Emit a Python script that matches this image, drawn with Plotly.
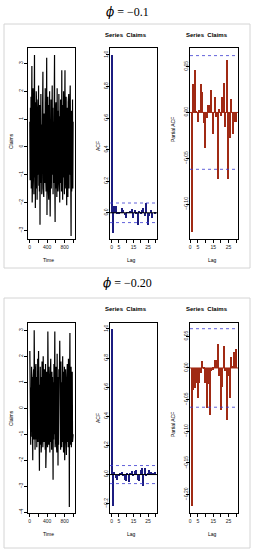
import plotly.graph_objects as go

W, H = 255, 550

# ---------------- data ----------------
PHI = "<span style='font-family:DejaVu Serif;font-style:italic'>\u03d5</span>"
titles = [PHI + " = \u22120.1", PHI + " = \u22120.20"]

claims_1 = [
    0.9, -1.2, 1.4, -0.7, 1.8, -1.5, 1.1, 2.9, -2.0, 1.3,
    -0.9, 2.1, -1.4, 0.8, -1.7, 1.2, 3.3, -1.1, 1.6, -2.2,
    1.0, -1.5, 2.0, -0.8, 1.3, -1.9, 0.7, -1.2, 1.7, -1.0,
    2.2, -1.4, 0.9, -1.6, 1.5, -2.8, 1.1, -0.9, 1.9, -1.3,
    0.8, -1.7, 1.4, -1.1, 2.0, 2.7, -1.5, 1.0, -1.8, 1.2,
    -0.9, 1.6, -1.3, 2.1, -1.0, 1.3, -1.6, 0.9, 3.2, -2.45,
    1.2, -1.0, 1.8, -1.4, 0.7, -1.9, 1.5, -1.1, 2.0, -1.3,
    -2.5, 1.1, -0.8, 1.7, -1.5, 1.0, -1.2, 2.2, -1.0, 1.4,
    -1.7, 0.9, -1.3, 1.9, -1.1, 3.3, -1.4, -2.7, 1.2, -0.9,
    1.6, -1.5, 1.0, -1.8, 2.1, -1.1, 1.3, -1.6, 0.8, -1.2,
    1.9, -1.0, 1.4, -2.0, 1.1, -1.3, 1.7, -0.9, 1.2, -1.6,
    2.75, -1.2, 1.0, -1.9, 1.5, -1.1, 2.0, -1.4, 0.9, -1.7,
    1.3, 2.75, -1.5, 1.1, -1.2, 1.8, -1.0, -2.1, 1.4, -1.3,
    1.0, -1.8, 1.6, -1.1, 1.9, -1.5, 1.2, -1.0, 1.5, 2.2,
    -1.4, 1.1, -3.2, 1.3, -1.6, 1.0, -1.2, 1.7, -1.5, 0.9,
]
claims_2 = [
    2.2, -1.0, 1.3, -1.4, 0.8, -1.1, 1.6, -0.9, 1.2, -1.5,
    -2.0, 1.1, -0.8, 1.5, -1.2, 3.0, -1.3, 0.9, -1.6, 1.4,
    -1.0, 1.7, -1.2, 0.8, -1.5, 1.2, -0.9, 1.9, -1.3, 1.0,
    2.2, -1.1, 1.4, -2.4, 0.9, -1.4, 1.6, -1.0, 1.2, -1.7,
    1.0, -1.2, 1.8, -0.9, 1.3, -1.5, 2.0, -1.1, 0.8, -1.3,
    1.5, -1.0, 1.1, -1.6, 1.7, -2.3, 0.9, -1.2, 1.4, -1.0,
    1.2, -1.5, 2.95, -1.1, 1.0, -1.4, 1.6, -0.9, 1.3, -1.7,
    1.1, -1.0, 1.9, -1.3, 0.8, -1.6, 1.4, -1.1, 1.2, -1.4,
    -2.75, 1.0, -1.2, 1.7, -1.0, 1.3, 2.95, -1.5, 1.1, -0.9,
    1.6, -1.3, 1.0, -1.7, 2.1, -1.1, 1.2, -2.2, 0.9, -1.4,
    1.5, -1.0, 1.3, 2.6, -1.2, 1.1, -1.6, 1.8, -0.9, 1.2,
    -1.5, 1.0, -1.3, 2.0, -1.1, 1.4, -1.7, 0.9, -1.2, 1.6,
    -2.0, 1.1, -1.0, 1.5, -1.4, 1.2, -1.8, 1.0, -1.1, 1.7,
    -1.3, 0.9, -1.5, 1.9, -1.0, 1.3, -3.8, 1.2, 2.9, -1.4,
    1.0, -1.2, 1.6, -1.5, 1.1, -0.9, 1.4, -1.3, 1.2, -1.0,
]
n_obs = 1000

acf_lags = list(range(0, 31))
acf_1 = [1.0, -0.13, 0.045, 0.04, -0.01, -0.005, 0.005, 0.03, 0.015, -0.015,
         -0.035, 0.003, 0.003, 0.01, 0.025, -0.03, 0.02, -0.01, -0.075, 0.01,
         -0.01, 0.02, 0.03, -0.02, 0.06, -0.08, -0.02, 0.02, -0.03, 0.0, -0.01]
acf_2 = [1.0, -0.214, 0.016, -0.023, -0.034, -0.01, 0.007, 0.016, -0.006, -0.034,
         -0.046, 0.011, -0.053, 0.005, 0.023, -0.01, 0.023, 0.034, -0.034, -0.046,
         0.03, 0.046, -0.08, 0.044, -0.01, 0.01, 0.03, 0.016, 0.011, 0.007, 0.02]

pacf_lags = list(range(1, 31))
pacf_1 = [-0.13, 0.031, 0.046, 0.002, -0.01, 0.003, 0.031, 0.022, -0.012, -0.039,
          -0.006, 0.008, 0.008, 0.025, -0.024, 0.017, -0.005, -0.073, 0.004, -0.004,
          0.017, 0.032, -0.016, 0.057, -0.073, -0.028, 0.015, -0.024, -0.01, -0.01]
pacf_2 = [-0.218, -0.034, -0.032, -0.024, -0.047, -0.024, -0.008, 0.011, -0.002, -0.024,
          -0.063, -0.026, -0.074, -0.005, -0.003, 0.012, 0.013, 0.038, -0.013, -0.066,
          -0.03, 0.034, -0.005, -0.082, -0.013, -0.047, 0.018, 0.003, 0.026, 0.03]

ci_bounds = [0.062, -0.062]

ts_ticks_1 = [-3, -2, -1, 0, 1, 2, 3]
ts_ticks_2 = [-4, -3, -2, -1, 0, 1, 2, 3]
time_ticks = [0, 200, 400, 600, 800, 1000]
time_labels = ["0", "", "400", "", "800", ""]
lag_ticks = [0, 5, 10, 15, 20, 25, 30]
lag_labels = ["0", "5", "", "15", "", "25", ""]
acf_ticks_1 = [0.0, 0.2, 0.4, 0.6, 0.8, 1.0]
acf_ticks_2 = [-0.2, 0.0, 0.2, 0.4, 0.6, 0.8, 1.0]
pacf_ticks_1 = [-0.10, -0.05, 0.0, 0.05]
pacf_ticks_2 = [-0.20, -0.15, -0.10, -0.05, 0.0, 0.05]

# ---------------- figure ----------------
ACF_COL = "#1c1c80"
PACF_COL = "#a02a14"
CI_COL = "#3a3ad0"
FONT = "Liberation Sans, Arial, sans-serif"


def xd(a, b):
    return [a / W, b / W]


def yd(top, bottom):
    return [1 - bottom / H, 1 - top / H]


fig = go.Figure()

panels = [
    dict(top=48, bottom=239, series=claims_1, acf=acf_1, pacf=pacf_1,
         ts_range=[-3.31, 3.55], ts_ticks=ts_ticks_1,
         acf_range=[-0.166, 1.044], acf_ticks=acf_ticks_1,
         pacf_range=[-0.138, 0.0703], pacf_ticks=pacf_ticks_1,
         ptop=24, pbot=268, title_y=12.5, series_title_y=35,
         xlab_y=260, claims_y=141, acf_y=146, pacf_y=130),
    dict(top=323, bottom=513, series=claims_2, acf=acf_2, pacf=pacf_2,
         ts_range=[-4.03, 3.28], ts_ticks=ts_ticks_2,
         acf_range=[-0.264, 1.041], acf_ticks=acf_ticks_2,
         pacf_range=[-0.229, 0.071], pacf_ticks=pacf_ticks_2,
         ptop=298, pbot=548, title_y=283, series_title_y=309,
         xlab_y=534, claims_y=418, acf_y=418, pacf_y=425),
]

axis_common = dict(showline=True, mirror=True, linecolor="black", linewidth=1,
                   ticks="outside", ticklen=3, tickwidth=0.8, tickcolor="black",
                   showgrid=False, zeroline=False,
                   tickfont=dict(family=FONT, size=5, color="#222"))

shapes = []
annotations = []

for p_i, p in enumerate(panels):
    k = p_i * 3
    ax_ts, ax_acf, ax_pacf = k + 1, k + 2, k + 3
    n = len(p["series"])
    t = [(i + 0.5) * n_obs / n for i in range(n)]

    def nm(prefix, idx):
        return prefix if idx == 1 else f"{prefix}{idx}"

    # time series
    fig.add_trace(go.Scatter(x=t, y=p["series"], mode="lines",
                             line=dict(color="black", width=1.2),
                             xaxis=nm("x", ax_ts), yaxis=nm("y", ax_ts),
                             showlegend=False, hoverinfo="skip"))
    # ACF
    fig.add_trace(go.Bar(x=acf_lags, y=p["acf"], width=1.0,
                         marker=dict(color=ACF_COL, line=dict(width=0)),
                         xaxis=nm("x", ax_acf), yaxis=nm("y", ax_acf),
                         showlegend=False))
    # PACF
    fig.add_trace(go.Bar(x=pacf_lags, y=p["pacf"], width=0.95,
                         marker=dict(color=PACF_COL, line=dict(width=0)),
                         xaxis=nm("x", ax_pacf), yaxis=nm("y", ax_pacf),
                         showlegend=False))

    fig.layout[nm("xaxis", ax_ts)] = dict(domain=xd(28, 75), anchor=nm("y", ax_ts),
                                        range=[-39, 1040], tickvals=time_ticks,
                                        ticktext=time_labels, **axis_common)
    fig.layout[nm("yaxis", ax_ts)] = dict(domain=yd(p["top"], p["bottom"]), anchor=nm("x", ax_ts),
                                        range=p["ts_range"], tickvals=p["ts_ticks"],
                                        tickangle=-90, ticklabelstandoff=-1, **axis_common)
    fig.layout[nm("xaxis", ax_acf)] = dict(domain=xd(110, 157), anchor=nm("y", ax_acf),
                                         range=[-1.2, 31.2], tickvals=lag_ticks,
                                         ticktext=lag_labels, **axis_common)
    fig.layout[nm("yaxis", ax_acf)] = dict(domain=yd(p["top"], p["bottom"]), anchor=nm("x", ax_acf),
                                         range=p["acf_range"], tickvals=p["acf_ticks"],
                                         tickformat=".1f", tickangle=-90,
                                         ticklabelstandoff=-4, **axis_common)
    fig.layout[nm("xaxis", ax_pacf)] = dict(domain=xd(190, 238), anchor=nm("y", ax_pacf),
                                          range=[-0.16, 31.16], tickvals=lag_ticks,
                                          ticktext=lag_labels, **axis_common)
    fig.layout[nm("yaxis", ax_pacf)] = dict(domain=yd(p["top"], p["bottom"]), anchor=nm("x", ax_pacf),
                                          range=p["pacf_range"], tickvals=p["pacf_ticks"],
                                          tickformat=".2f", tickangle=-90,
                                          ticklabelstandoff=-4, **axis_common)

    # zero lines and confidence bounds
    for ax, col in ((ax_acf, "black"), (ax_pacf, PACF_COL)):
        shapes.append(dict(type="line", xref=f"{nm('x', ax)} domain", yref=nm("y", ax),
                           x0=0, x1=1, y0=0, y1=0, line=dict(color=col, width=1)))
        for cb in ci_bounds:
            shapes.append(dict(type="line", xref=f"{nm('x', ax)} domain", yref=nm("y", ax),
                               x0=0, x1=1, y0=cb, y1=cb,
                               line=dict(color=CI_COL, width=0.8, dash="dot")))

    # panel frame
    shapes.append(dict(type="rect", xref="paper", yref="paper",
                       x0=4 / W, x1=250 / W, y0=1 - p["pbot"] / H, y1=1 - p["ptop"] / H,
                       line=dict(color="#d4d4d4", width=1), layer="below"))

    # titles
    annotations.append(dict(text=titles[p_i], x=127 / W, y=1 - p["title_y"] / H,
                            xref="paper", yref="paper", showarrow=False,
                            xanchor="center", yanchor="middle",
                            font=dict(family="Liberation Serif, Times New Roman, serif",
                                      size=12, color="black")))
    for cx in (126, 207):
        annotations.append(dict(text="<b>Series  Claims</b>", x=cx / W,
                                y=1 - p["series_title_y"] / H,
                                xref="paper", yref="paper", showarrow=False,
                                xanchor="center", yanchor="middle",
                                font=dict(family=FONT, size=6, color="black")))
    for cx, txt in ((48, "Time"), (131, "Lag"), (212, "Lag")):
        annotations.append(dict(text=txt, x=cx / W, y=1 - p["xlab_y"] / H,
                                xref="paper", yref="paper", showarrow=False,
                                xanchor="center", yanchor="middle",
                                font=dict(family=FONT, size=5, color="black")))
    for cx, cy, txt in ((11, p["claims_y"], "Claims"), (98, p["acf_y"], "ACF"),
                        (173, p["pacf_y"], "Partial ACF")):
        annotations.append(dict(text=txt, x=cx / W, y=1 - cy / H, textangle=-90,
                                xref="paper", yref="paper", showarrow=False,
                                xanchor="center", yanchor="middle",
                                font=dict(family=FONT, size=5, color="black")))

fig.update_layout(width=W, height=H, margin=dict(l=0, r=0, t=0, b=0),
                  paper_bgcolor="white", plot_bgcolor="white",
                  shapes=shapes, annotations=annotations, bargap=0,
                  showlegend=False)

fig.write_html("out.html", config={"displayModeBar": False},
               post_script="document.body.style.margin='0';document.body.style.padding='0';")
